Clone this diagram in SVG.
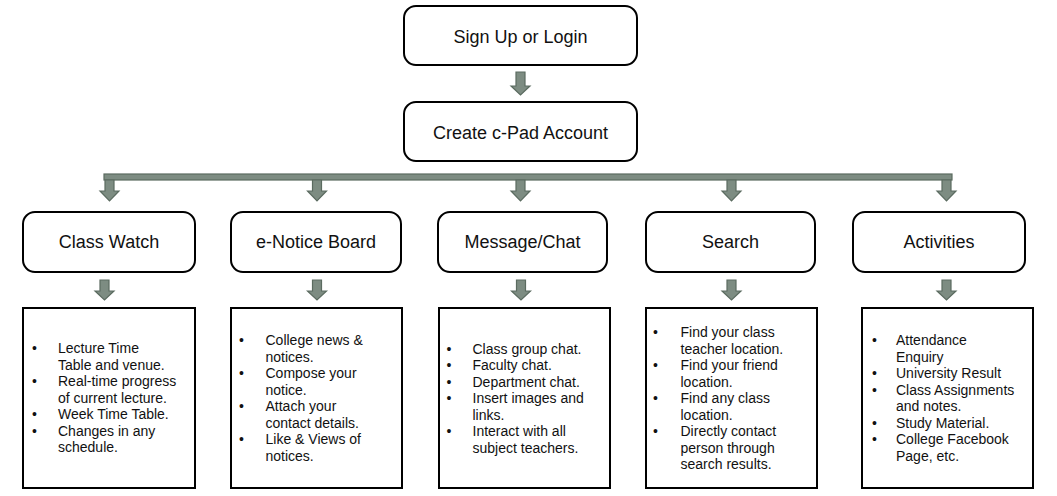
<svg xmlns="http://www.w3.org/2000/svg" width="1057" height="496" viewBox="0 0 1057 496">
<style>
.box{fill:#fff;stroke:#000;stroke-width:2}
.lbl{font-family:"Liberation Sans",Arial,sans-serif;font-size:18px;fill:#111;text-anchor:middle}
.det{font-family:"Liberation Sans",Arial,sans-serif;font-size:14px;fill:#111}
.arr{fill:#7d8c82;stroke:#5b6b60;stroke-width:1.2}
</style>
<rect width="1057" height="496" fill="#fff"/>
<g id="connectors">
<path class="arr" d="M516,72 H525 V86 H530 L520.5,95 L511,86 H516 Z"/>
<rect class="arr" x="104" y="174" width="848" height="6"/>
<path class="arr" d="M105,180 H114 V191 H119 L109.5,201 L100,191 H105 Z"/>
<path class="arr" d="M312.5,180 H321.5 V191 H326.5 L317,201 L307.5,191 H312.5 Z"/>
<path class="arr" d="M516,180 H525 V191 H530 L520.5,201 L511,191 H516 Z"/>
<path class="arr" d="M727,180 H736 V191 H741 L731.5,201 L722,191 H727 Z"/>
<path class="arr" d="M942,180 H951 V191 H956 L946.5,201 L937,191 H942 Z"/>
<path class="arr" d="M100,280 H109 V291 H114 L104.5,300 L95,291 H100 Z"/>
<path class="arr" d="M312.5,280 H321.5 V291 H326.5 L317,300 L307.5,291 H312.5 Z"/>
<path class="arr" d="M516.5,280 H525.5 V291 H530.5 L521,300 L511.5,291 H516.5 Z"/>
<path class="arr" d="M727,280 H736 V291 H741 L731.5,300 L722,291 H727 Z"/>
<path class="arr" d="M942,280 H951 V291 H956 L946.5,300 L937,291 H942 Z"/>
</g>
<g id="signup">
<rect class="box" x="404" y="6" width="233" height="59" rx="12"/>
<text class="lbl" x="520.5" y="43">Sign Up or Login</text>
</g>
<g id="create">
<rect class="box" x="404" y="102" width="233" height="59" rx="12"/>
<text class="lbl" x="520.5" y="139">Create c-Pad Account</text>
</g>
<g id="classwatch">
<rect class="box" x="23" y="212" width="172" height="60" rx="12"/>
<text class="lbl" x="109" y="248">Class Watch</text>
</g>
<g id="enotice">
<rect class="box" x="231" y="212" width="170" height="60" rx="12"/>
<text class="lbl" x="316" y="248">e-Notice Board</text>
</g>
<g id="message">
<rect class="box" x="438" y="212" width="169" height="60" rx="12"/>
<text class="lbl" x="522.5" y="248">Message/Chat</text>
</g>
<g id="search">
<rect class="box" x="646" y="212" width="169" height="60" rx="12"/>
<text class="lbl" x="730.5" y="248">Search</text>
</g>
<g id="activities">
<rect class="box" x="853" y="212" width="172" height="60" rx="12"/>
<text class="lbl" x="939" y="248">Activities</text>
</g>
<g id="classwatch-details">
<rect class="box" x="23" y="308" width="172" height="180"/>
<text class="det" x="32" y="353">•</text><text class="det" x="58" y="353">Lecture Time</text>
<text class="det" x="58" y="369.5">Table and venue.</text>
<text class="det" x="32" y="386">•</text><text class="det" x="58" y="386">Real-time progress</text>
<text class="det" x="58" y="402.5">of current lecture.</text>
<text class="det" x="32" y="419">•</text><text class="det" x="58" y="419">Week Time Table.</text>
<text class="det" x="32" y="435.5">•</text><text class="det" x="58" y="435.5">Changes in any</text>
<text class="det" x="58" y="452">schedule.</text>
</g>
<g id="enotice-details">
<rect class="box" x="231" y="308" width="171" height="180"/>
<text class="det" x="239" y="345">•</text><text class="det" x="265.5" y="345">College news &amp;</text>
<text class="det" x="265.5" y="361.5">notices.</text>
<text class="det" x="239" y="378">•</text><text class="det" x="265.5" y="378">Compose your</text>
<text class="det" x="265.5" y="394.5">notice.</text>
<text class="det" x="239" y="411">•</text><text class="det" x="265.5" y="411">Attach your</text>
<text class="det" x="265.5" y="427.5">contact details.</text>
<text class="det" x="239" y="444">•</text><text class="det" x="265.5" y="444">Like &amp; Views of</text>
<text class="det" x="265.5" y="460.5">notices.</text>
</g>
<g id="message-details">
<rect class="box" x="439" y="308" width="171" height="180"/>
<text class="det" x="446.5" y="353.5">•</text><text class="det" x="472.5" y="353.5">Class group chat.</text>
<text class="det" x="446.5" y="370">•</text><text class="det" x="472.5" y="370">Faculty chat.</text>
<text class="det" x="446.5" y="386.5">•</text><text class="det" x="472.5" y="386.5">Department chat.</text>
<text class="det" x="446.5" y="403">•</text><text class="det" x="472.5" y="403">Insert images and</text>
<text class="det" x="472.5" y="419.5">links.</text>
<text class="det" x="446.5" y="436">•</text><text class="det" x="472.5" y="436">Interact with all</text>
<text class="det" x="472.5" y="452.5">subject teachers.</text>
</g>
<g id="search-details">
<rect class="box" x="646" y="308" width="171" height="180"/>
<text class="det" x="653" y="337">•</text><text class="det" x="680.5" y="337">Find your class</text>
<text class="det" x="680.5" y="353.5">teacher location.</text>
<text class="det" x="653" y="370">•</text><text class="det" x="680.5" y="370">Find your friend</text>
<text class="det" x="680.5" y="386.5">location.</text>
<text class="det" x="653" y="403">•</text><text class="det" x="680.5" y="403">Find any class</text>
<text class="det" x="680.5" y="419.5">location.</text>
<text class="det" x="653" y="436">•</text><text class="det" x="680.5" y="436">Directly contact</text>
<text class="det" x="680.5" y="452.5">person through</text>
<text class="det" x="680.5" y="469">search results.</text>
</g>
<g id="activities-details">
<rect class="box" x="862" y="308" width="171" height="180"/>
<text class="det" x="872" y="345">•</text><text class="det" x="896" y="345">Attendance</text>
<text class="det" x="896" y="361.5">Enquiry</text>
<text class="det" x="872" y="378">•</text><text class="det" x="896" y="378">University Result</text>
<text class="det" x="872" y="394.5">•</text><text class="det" x="896" y="394.5">Class Assignments</text>
<text class="det" x="896" y="411">and notes.</text>
<text class="det" x="872" y="427.5">•</text><text class="det" x="896" y="427.5">Study Material.</text>
<text class="det" x="872" y="444">•</text><text class="det" x="896" y="444">College Facebook</text>
<text class="det" x="896" y="460.5">Page, etc.</text>
</g>
</svg>
